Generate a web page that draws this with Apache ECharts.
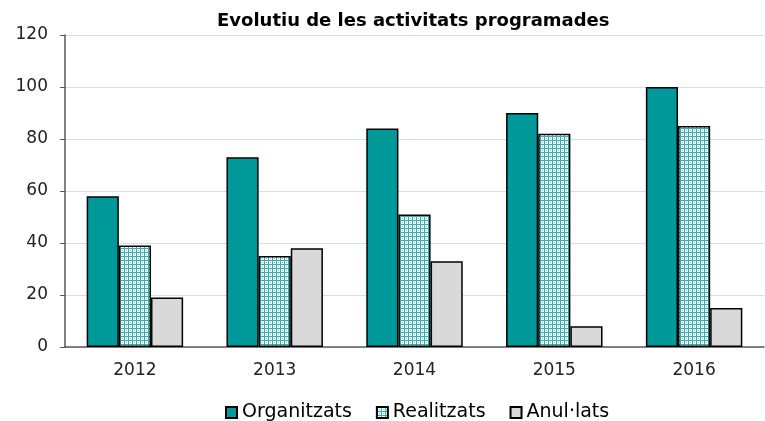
<!DOCTYPE html>
<html>
<head>
<meta charset="utf-8">
<script src="https://cdn.jsdelivr.net/npm/echarts@6/dist/echarts.min.js"></script>
<style>
  html, body { margin: 0; padding: 0; background: #fff; }
  #chart { width: 765px; height: 421px; }
</style>
</head>
<body>
<div id="chart"></div>
<script>
// dades del gràfic
const anys = ['2012', '2013', '2014', '2015', '2016'];
const organitzats = [58, 73, 84, 90, 100];
const realitzats = [39, 35, 51, 82, 85];
const anullats = [19, 38, 33, 8, 15];
const yTicks = [0, 20, 40, 60, 80, 100, 120];

const teal = '#009999';

// trama puntejada per a "Realitzats"
function makePattern() {
  const c = document.createElement('canvas');
  c.width = 4; c.height = 4;
  const ctx = c.getContext('2d');
  ctx.fillStyle = '#ffffff';
  ctx.fillRect(0, 0, 4, 4);
  ctx.fillStyle = '#33adad';
  ctx.fillRect(0, 0, 1, 4);
  ctx.fillRect(0, 0, 4, 1);
  ctx.fillStyle = '#8fd1d1';
  ctx.fillRect(2, 2, 1, 1);
  return c;
}

const myChart = echarts.init(document.getElementById('chart'));

const borde = { borderColor: '#000', borderWidth: 1.5 };

myChart.setOption({
  animation: false,
  textStyle: { fontFamily: 'DejaVu Sans' },
  title: {
    text: 'Evolutiu de les activitats programades',
    left: 212,
    top: 7,
    textStyle: { fontSize: 18, fontWeight: 'bold', color: '#000', fontFamily: 'DejaVu Sans' }
  },
  legend: {
    bottom: -6,
    left: 220,
    itemWidth: 11,
    itemHeight: 11,
    itemGap: 24,
    icon: 'rect',
    textStyle: { fontSize: 19, color: '#000', fontFamily: 'DejaVu Sans' },
    data: ['Organitzats', 'Realitzats', 'Anul·lats']
  },
  grid: { left: 65, right: 1, top: 35, bottom: 74 },
  xAxis: {
    type: 'category',
    data: anys,
    axisLine: { lineStyle: { color: '#595959', width: 1.5 } },
    axisTick: { length: 6, lineStyle: { color: '#595959' } },
    axisLabel: { fontSize: 17, color: '#222', margin: 15 }
  },
  yAxis: {
    type: 'value',
    min: yTicks[0],
    max: yTicks[yTicks.length - 1],
    interval: 20,
    axisLine: { show: true, lineStyle: { color: '#595959', width: 1.5 } },
    axisTick: { show: true, length: 5, lineStyle: { color: '#595959' } },
    axisLabel: { fontSize: 17, color: '#222', margin: 17 },
    splitLine: { lineStyle: { color: '#dcdcdc' } }
  },
  series: [
    {
      name: 'Organitzats',
      type: 'bar',
      data: organitzats,
      barGap: '0%',
      barCategoryGap: '31%',
      itemStyle: Object.assign({ color: teal }, borde)
    },
    {
      name: 'Realitzats',
      type: 'bar',
      data: realitzats,
      itemStyle: Object.assign({ color: { image: makePattern(), repeat: 'repeat' } }, borde)
    },
    {
      name: 'Anul·lats',
      type: 'bar',
      data: anullats,
      itemStyle: Object.assign({ color: '#d9d9d9' }, borde)
    }
  ]
});
</script>
</body>
</html>
